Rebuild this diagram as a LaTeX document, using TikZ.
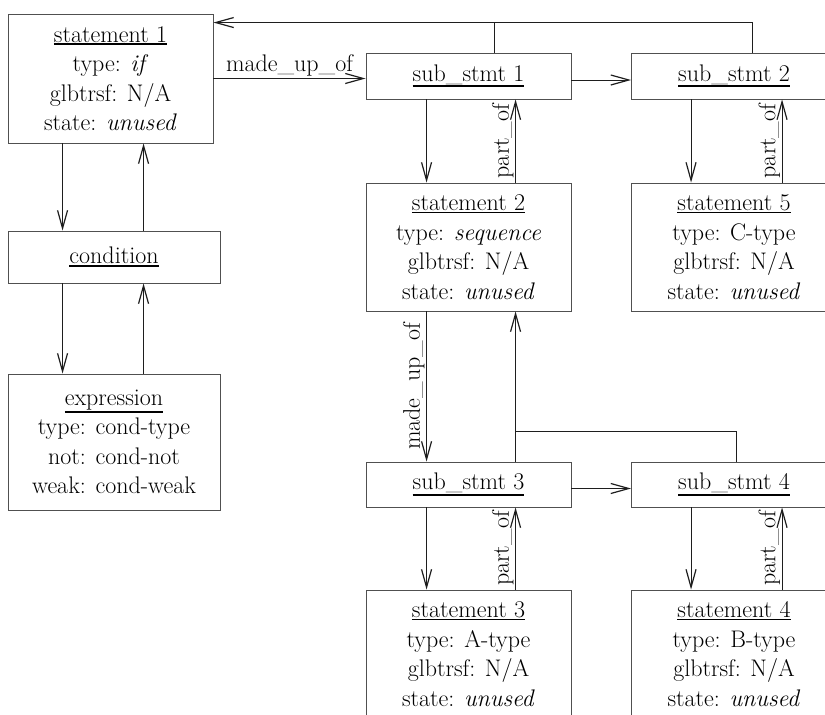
\documentclass[tikz,border=0pt]{standalone}
\usepackage{tikz}
\usetikzlibrary{arrows.meta, calc}
\definecolor{boxline}{RGB}{80,80,80}
\definecolor{linkline}{RGB}{30,30,30}
\newcommand{\hdline}[1]{\setbox0=\hbox{#1}\leavevmode\rlap{\rule[\dimexpr-\dp0-2.5pt\relax]{\wd0}{1.7pt}}\box0}

\begin{document}
\begin{tikzpicture}[x=1pt, y=-1pt,
  box/.style={draw=boxline, line width=0.9pt, rectangle, inner sep=0pt, align=center,
    minimum width=205pt, font=\fontsize{24}{29.5}\selectfont},
  arr/.style={draw=linkline, line width=0.8pt, -{Straight Barb[length=18pt, width=10pt, line width=1.2pt]}},
  lnk/.style={draw=linkline, line width=0.8pt},
  lbl/.style={font=\fontsize{24}{26}\selectfont, inner sep=1.5pt}]
  \clip (0,0) rectangle (825,715);
  % left column
  \node[box, minimum height=129pt] (st1) at (110.5,78.5) {\hdline{statement 1}\\ type: \textit{if}\\ glbtrsf: N/A\\ state: \textit{unused}};
  \node[box, minimum width=212pt, minimum height=52pt] (cond) at (114,257) {\hdline{condition}};
  \node[box, minimum width=212pt, minimum height=136pt] (expr) at (114,442) {\hdline{expression}\\ type: cond-type\\ not: cond-not\\ weak: cond-weak};
  % sub statements
  \node[box, minimum height=46pt] (sub1) at (468.5,76) {\hdline{sub\_stmt 1}};
  \node[box, minimum height=46pt] (sub2) at (734,76) {\hdline{sub\_stmt 2}};
  \node[box, minimum height=128pt] (st2) at (468.5,247) {\hdline{statement 2}\\ type: \textit{sequence}\\ glbtrsf: N/A\\ state: \textit{unused}};
  \node[box, minimum height=128pt] (st5) at (734,247) {\hdline{statement 5}\\ type: C-type\\ glbtrsf: N/A\\ state: \textit{unused}};
  \node[box, minimum height=45pt] (sub3) at (468.5,484.5) {\hdline{sub\_stmt 3}};
  \node[box, minimum height=45pt] (sub4) at (734,484.5) {\hdline{sub\_stmt 4}};
  \node[box, minimum height=128pt] (st3) at (468.5,654) {\hdline{statement 3}\\ type: A-type\\ glbtrsf: N/A\\ state: \textit{unused}};
  \node[box, minimum height=128pt] (st4) at (734,654) {\hdline{statement 4}\\ type: B-type\\ glbtrsf: N/A\\ state: \textit{unused}};

  % left links
  \draw[arr] ([xshift=55pt]st1.south west) -- ([xshift=55pt]cond.north west);
  \draw[arr] ([xshift=136pt]cond.north west) -- ([xshift=136pt]st1.south west);
  \draw[arr] ([xshift=55pt]cond.south west) -- ([xshift=55pt]expr.north west);
  \draw[arr] ([xshift=136pt]expr.north west) -- ([xshift=136pt]cond.south west);

  % statement 1 to its parts
  \draw[arr] (st1.east) -- (st1.east -| sub1.west) node[lbl, midway, above] {made\_up\_of};
  \draw[arr] ([yshift=-4pt]sub1.east) -- ([yshift=-4pt]sub2.west);
  \coordinate (back) at ([yshift=-9pt]st1.north east);
  \draw[arr] ([xshift=121pt]sub2.north west) |- (back);
  \draw[lnk] ([xshift=129pt]sub1.north west) -- +(0,-30);

  \draw[arr] ([xshift=61pt]sub1.south west) -- ([xshift=61pt]st2.north west);
  \draw[arr] ([xshift=150pt]st2.north west) -- ([xshift=150pt]sub1.south west) node[lbl, midway, rotate=90, anchor=south] {part\_of};
  \draw[arr] ([xshift=60pt]sub2.south west) -- ([xshift=60pt]st5.north west);
  \draw[arr] ([xshift=151pt]st5.north west) -- ([xshift=151pt]sub2.south west) node[lbl, midway, rotate=90, anchor=south] {part\_of};

  % statement 2 to its parts
  \draw[arr] ([xshift=61pt]st2.south west) -- ([xshift=61pt]sub3.north west) node[lbl, midway, rotate=90, anchor=south] {made\_up\_of};
  \draw[arr] ([xshift=150pt]sub3.north west) -- ([xshift=150pt]st2.south west);
  \draw[lnk] ([xshift=105pt]sub4.north west) |- ([xshift=150pt, yshift=30pt]sub3.north west);
  \draw[arr] ([yshift=-4pt]sub3.east) -- ([yshift=-4pt]sub4.west);

  \draw[arr] ([xshift=61pt]sub3.south west) -- ([xshift=61pt]st3.north west);
  \draw[arr] ([xshift=150pt]st3.north west) -- ([xshift=150pt]sub3.south west) node[lbl, midway, rotate=90, anchor=south] {part\_of};
  \draw[arr] ([xshift=60pt]sub4.south west) -- ([xshift=60pt]st4.north west);
  \draw[arr] ([xshift=151pt]st4.north west) -- ([xshift=151pt]sub4.south west) node[lbl, midway, rotate=90, anchor=south] {part\_of};
\end{tikzpicture}
\end{document}
